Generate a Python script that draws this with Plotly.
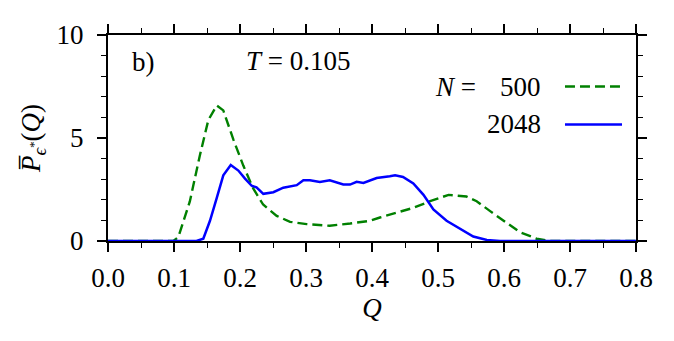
import plotly.graph_objects as go

# N = 500 (green dashed)
q500 = [0.0, 0.099, 0.1066, 0.124, 0.139, 0.152, 0.1647, 0.1747, 0.19, 0.205, 0.22, 0.235,
        0.2556, 0.2758, 0.301, 0.336, 0.367, 0.397, 0.412, 0.437, 0.4626, 0.488, 0.516,
        0.543, 0.5586, 0.579, 0.599, 0.624, 0.6495, 0.67, 0.8]
p500 = [0.0, 0.0, 0.19, 1.92, 4.13, 5.87, 6.58, 6.34, 4.92, 3.66, 2.55, 1.77,
        1.22, 0.93, 0.82, 0.74, 0.85, 0.98, 1.14, 1.37, 1.61, 1.93, 2.24,
        2.16, 1.93, 1.45, 0.98, 0.43, 0.11, 0.0, 0.0]

# N = 2048 (blue solid)
q2048 = [0.0, 0.134, 0.1444, 0.1545, 0.1647, 0.1747, 0.186, 0.1975, 0.2076, 0.2177, 0.225,
         0.2353, 0.2505, 0.2656, 0.286, 0.296, 0.306, 0.321, 0.336, 0.3565, 0.3667, 0.3768,
         0.387, 0.407, 0.427, 0.435, 0.447, 0.4626, 0.478, 0.493, 0.513, 0.533, 0.5535,
         0.574, 0.594, 0.8]
p2048 = [0.0, 0.0, 0.11, 0.98, 2.08, 3.19, 3.69, 3.42, 3.03, 2.68, 2.6,
         2.29, 2.37, 2.59, 2.71, 2.95, 2.95, 2.87, 2.95, 2.74, 2.74, 2.87,
         2.82, 3.06, 3.14, 3.19, 3.11, 2.79, 2.24, 1.53, 0.98, 0.59, 0.22,
         0.05, 0.0, 0.0]

x_ticks = [0.0, 0.1, 0.2, 0.3, 0.4, 0.5, 0.6, 0.7, 0.8]
y_ticks = [0, 5, 10]

FONT = "Liberation Serif"
FS = 27
GREEN = "#008000"
BLUE = "#0000ff"
DASH = "10px,5px"

fig = go.Figure()
fig.add_trace(go.Scatter(x=q500, y=p500, mode="lines",
                         line=dict(color=GREEN, width=2.4, dash=DASH),
                         showlegend=False))
fig.add_trace(go.Scatter(x=q2048, y=p2048, mode="lines",
                         line=dict(color=BLUE, width=2.5),
                         showlegend=False))

axis_common = dict(showline=True, linecolor="black", linewidth=2, mirror="ticks",
                   ticks="outside", ticklen=9, tickwidth=1.5, tickcolor="black",
                   showgrid=False, zeroline=False,
                   tickfont=dict(family=FONT, size=FS, color="black"))

fig.update_xaxes(range=[0, 0.8], tickvals=x_ticks,
                 ticktext=[f"{v:.1f}" for v in x_ticks],
                 ticklabelstandoff=3,
                 minor=dict(ticks="outside", ticklen=5, dtick=0.05, tick0=0,
                            tickcolor="black", tickwidth=1.2),
                 title=dict(text="<i>Q</i>", font=dict(family=FONT, size=FS, color="black"),
                            standoff=6),
                 **axis_common)
fig.update_yaxes(range=[0, 10], tickvals=y_ticks,
                 ticklabelstandoff=8,
                 minor=dict(ticks="outside", ticklen=5, dtick=1, tick0=0,
                            tickcolor="black", tickwidth=1.2),
                 title=dict(text="<i>P̅</i><sub><i>ϵ</i><sup>*</sup></sub>(<i>Q</i>)",
                            font=dict(family=FONT, size=FS, color="black"), standoff=8),
                 **axis_common)

fig.update_layout(width=674, height=341, plot_bgcolor="white", paper_bgcolor="white",
                  font=dict(family=FONT, size=FS, color="black"),
                  margin=dict(l=100, r=46, t=21, b=108))

ann_font = dict(family=FONT, size=FS, color="black")
fig.add_annotation(text="b)", xref="paper", yref="paper", x=0.0417, y=0.868,
                   xanchor="left", yanchor="middle", showarrow=False, font=ann_font)
fig.add_annotation(text="<i>T</i> = 0.105", xref="paper", yref="paper", x=0.3617, y=0.873,
                   xanchor="center", yanchor="middle", showarrow=False, font=ann_font)
fig.add_annotation(text="<i>N</i> =", xref="paper", yref="paper", x=0.7008, y=0.75,
                   xanchor="right", yanchor="middle", showarrow=False, font=ann_font)
fig.add_annotation(text="500", xref="paper", yref="paper", x=0.824, y=0.75,
                   xanchor="right", yanchor="middle", showarrow=False, font=ann_font)
fig.add_annotation(text="2048", xref="paper", yref="paper", x=0.824, y=0.566,
                   xanchor="right", yanchor="middle", showarrow=False, font=ann_font)
fig.add_shape(type="line", xref="paper", yref="paper", x0=0.8655, x1=0.9735, y0=0.75, y1=0.75,
              line=dict(color=GREEN, width=2.4, dash=DASH))
fig.add_shape(type="line", xref="paper", yref="paper", x0=0.8655, x1=0.9735, y0=0.566, y1=0.566,
              line=dict(color=BLUE, width=2.5))

fig.write_html("out.html")
